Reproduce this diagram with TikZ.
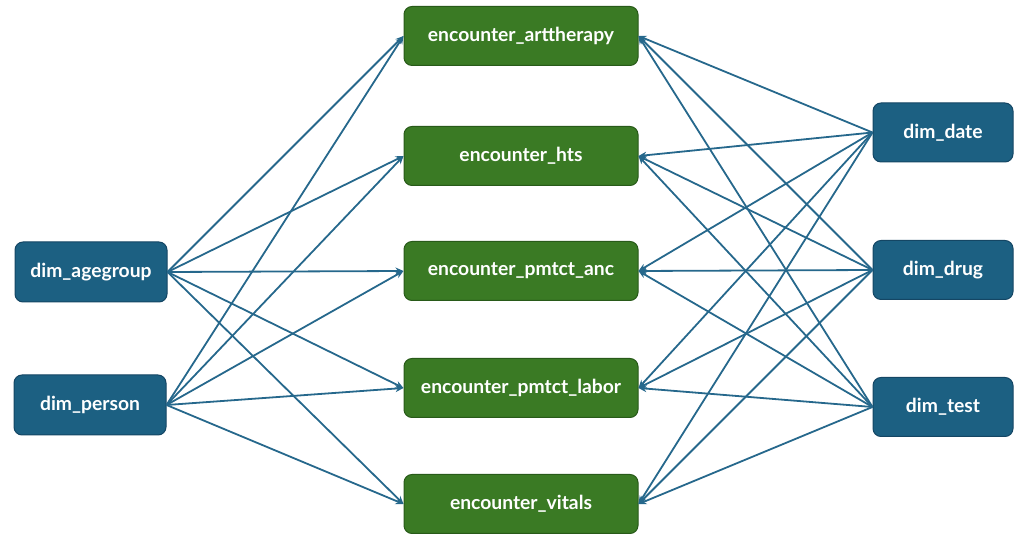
\documentclass[tikz,border=0pt]{standalone}
\usepackage{fontspec}
\setmainfont{Lato}
\usetikzlibrary{arrows.meta}
\definecolor{dimfill}{RGB}{28,96,130}
\definecolor{dimline}{RGB}{20,70,100}
\definecolor{encfill}{RGB}{58,122,36}
\definecolor{encline}{RGB}{40,90,25}
\definecolor{linkcol}{RGB}{38,104,140}
\tikzset{
  base/.style={rounded corners=8pt, line width=1pt, text=white, font=\bfseries\fontsize{19.3}{22}\selectfont, inner sep=0pt, align=center},
  enc/.style={base, fill=encfill, draw=encline, minimum width=234pt, minimum height=59pt},
  dimL/.style={base, fill=dimfill, draw=dimline, minimum width=152pt, minimum height=60pt},
  dimR/.style={base, fill=dimfill, draw=dimline, minimum width=140pt, minimum height=59pt},
  link/.style={draw=linkcol, line width=1.8pt, -{Stealth[length=8pt,width=7pt]}}
}
\begin{document}
\begin{tikzpicture}[x=1pt,y=1pt]
\useasboundingbox (0,0) rectangle (1017,535);
% fact tables
\node[enc] (e1) at (521,499) {encounter\_arttherapy};
\node[enc] (e2) at (521,379) {encounter\_hts};
\node[enc] (e3) at (521,264) {encounter\_pmtct\_anc};
\node[enc] (e4) at (521,147) {encounter\_pmtct\_labor};
\node[enc] (e5) at (521,31) {encounter\_vitals};
% dimensions
\node[dimL] (ag) at (91,263) {dim\_agegroup};
\node[dimL] (pe) at (90,130) {dim\_person};
\node[dimR] (da) at (943,402.5) {dim\_date};
\node[dimR] (dr) at (943,265) {dim\_drug};
\node[dimR] (te) at (943,128) {dim\_test};
% links from each dimension to each fact table
\foreach \d in {ag,pe}{
  \foreach \e in {e1,e2,e3,e4,e5}{
    \draw[link] (\d.east) -- (\e.west);
  }
}
\foreach \d in {da,dr,te}{
  \foreach \e in {e1,e2,e3,e4,e5}{
    \draw[link] (\d.west) -- (\e.east);
  }
}
\end{tikzpicture}
\end{document}
